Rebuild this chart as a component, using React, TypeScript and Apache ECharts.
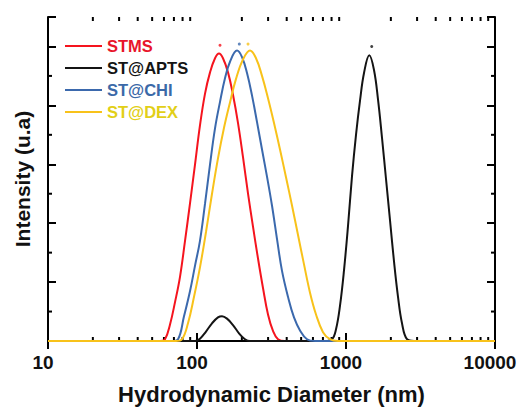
import React, { useEffect, useRef } from "react";
import * as echarts from "echarts";

// Hydrodynamic diameter (nm) / intensity (u.a)
const stmsX = [10, 56.4, 61, 65.9, 71.2, 76.9, 83.1, 89.8, 97, 104.7, 113.2, 122.3, 132.1, 140.5, 149.4, 161.5, 174.4, 188.5, 203.6, 220, 237.6, 256.7, 277.3, 299.6, 323.6, 349.7, 389.6, 10000];
const stmsY = [0, 0, 0.03, 0.28, 0.66, 1.09, 1.7, 2.34, 3.0, 3.66, 4.2, 4.56, 4.8, 4.88, 4.8, 4.56, 4.18, 3.7, 3.12, 2.5, 1.94, 1.4, 0.9, 0.45, 0.17, 0.03, 0, 0];

const aptsX = [10, 97, 104.7, 114.9, 126.1, 138.3, 147.2, 159, 174.4, 191.4, 209.9, 226.9, 722.9, 805.4, 857, 911.6, 969.6, 1031.3, 1097.3, 1167.2, 1241.7, 1321, 1433.3, 1541.3, 1639.8, 1744.3, 1855.8, 1974.1, 2099.9, 2233.7, 2375.9, 2567.5, 2860.8, 10000];
const aptsY = [0, 0, 0.04, 0.16, 0.3, 0.4, 0.42, 0.38, 0.27, 0.13, 0.03, 0, 0, 0.03, 0.2, 0.6, 1.2, 1.95, 2.8, 3.5, 4.08, 4.55, 4.85, 4.6, 4.1, 3.45, 2.75, 2.05, 1.35, 0.75, 0.3, 0.03, 0, 0];

const chiX = [10, 67.9, 74.6, 81.8, 89.8, 97, 104.7, 113.2, 122.3, 132.1, 142.7, 154.1, 166.5, 185.6, 200.5, 216.6, 233.9, 252.7, 273.1, 295, 318.6, 344.4, 372, 408, 447.7, 491.2, 547.3, 619.5, 10000];
const chiY = [0, 0, 0.03, 0.42, 0.85, 1.28, 1.7, 2.33, 3.0, 3.61, 4.06, 4.46, 4.74, 4.93, 4.82, 4.55, 4.17, 3.72, 3.25, 2.79, 2.3, 1.73, 1.19, 0.75, 0.4, 0.18, 0.03, 0, 0];

const dexX = [10, 72.3, 79.3, 87, 95.5, 104.7, 114.9, 126.1, 138.3, 151.8, 166.5, 182.7, 203.6, 226.9, 248.9, 273.1, 299.6, 328.7, 360.6, 395.7, 434.1, 476.4, 522.6, 573.4, 629.2, 700.9, 780.8, 883.6, 10000];
const dexY = [0, 0, 0.03, 0.3, 0.75, 1.25, 1.85, 2.5, 3.1, 3.62, 4.05, 4.45, 4.78, 4.93, 4.8, 4.5, 4.12, 3.7, 3.25, 2.78, 2.3, 1.8, 1.3, 0.82, 0.45, 0.15, 0.03, 0, 0];

// small dots printed just above each peak
const peakDotX = [142.7, 1488, 192.3, 220];
const peakDotY = [5.02, 5.0, 5.04, 5.04];

const seriesNames = ["STMS", "ST@APTS", "ST@CHI", "ST@DEX"];
const lineColors = ["#f5141e", "#141414", "#3b69ad", "#f8c21a"];
const textColors = ["#e8152b", "#141414", "#3b69a8", "#e2cf17"];

const xTickLabels = [10, 100, 1000, 10000];
const xMinorTicks = [20, 30, 40, 50, 60, 70, 80, 90, 200, 300, 400, 500, 600, 700, 800, 900, 2000, 3000, 4000, 5000, 6000, 7000, 8000, 9000];
const yMinorTicks = [0.5, 1.5, 2.5, 3.5, 4.5];

const FONT = "'Liberation Sans', Arial, sans-serif";

function zip(xs: number[], ys: number[]) {
  return xs.map((x, i) => [x, ys[i]]);
}

export default function App() {
  const ref = useRef<HTMLDivElement>(null);
  useEffect(() => {
    if (!ref.current) return;
    const chart = echarts.init(ref.current, null, { renderer: "svg" });
    const data = [zip(stmsX, stmsY), zip(aptsX, aptsY), zip(chiX, chiY), zip(dexX, dexY)];
    const axisLineStyle = { color: "#000", width: 2 };
    chart.setOption({
      animation: false,
      backgroundColor: "#fff",
      grid: { left: 48, right: 27, top: 17, bottom: 65 },
      legend: {
        orient: "vertical",
        left: 60,
        top: 32,
        icon: "rect",
        itemWidth: 37,
        itemHeight: 2,
        itemGap: 4,
        data: seriesNames.map((n, i) => ({
          name: n,
          textStyle: { color: textColors[i] },
        })),
        textStyle: { fontFamily: FONT, fontWeight: "bold", fontSize: 16.5, lineHeight: 18 },
      },
      xAxis: [
        {
          type: "log",
          logBase: 10,
          min: 10,
          max: 10000,
          position: "bottom",
          axisLine: { lineStyle: axisLineStyle },
          axisTick: { inside: true, length: 8, lineStyle: { color: "#000", width: 2 } },
          axisLabel: {
            fontFamily: FONT,
            fontWeight: "bold",
            fontSize: 19,
            color: "#111",
            margin: 12,
            padding: [0, 10, 0, 0],
            showMinLabel: true,
            showMaxLabel: true,
            formatter: (v: number) => (xTickLabels.includes(Math.round(v)) ? String(Math.round(v)) : ""),
          },
          splitLine: { show: false },
          name: "Hydrodynamic Diameter (nm)",
          nameLocation: "middle",
          nameGap: 42,
          nameTextStyle: { fontFamily: FONT, fontWeight: "bold", fontSize: 22, color: "#111" },
        },
        {
          type: "log",
          logBase: 10,
          min: 10,
          max: 10000,
          position: "top",
          axisLine: { lineStyle: axisLineStyle },
          axisTick: { inside: true, length: 8, lineStyle: { color: "#000", width: 2 } },
          axisLabel: { show: false },
          splitLine: { show: false },
        },
      ],
      yAxis: [
        {
          type: "value",
          min: 0,
          max: 5.5,
          interval: 1,
          position: "left",
          axisLine: { show: true, lineStyle: axisLineStyle },
          axisTick: { show: true, inside: true, length: 8, lineStyle: { color: "#000", width: 2 } },
          axisLabel: { show: false },
          splitLine: { show: false },
          name: "Intensity (u.a)",
          nameLocation: "middle",
          nameGap: 15,
          nameTextStyle: { fontFamily: FONT, fontWeight: "bold", fontSize: 21, color: "#111" },
        },
        {
          type: "value",
          min: 0,
          max: 5.5,
          interval: 1,
          position: "right",
          axisLine: { show: true, lineStyle: axisLineStyle },
          axisTick: { show: true, inside: true, length: 8, lineStyle: { color: "#000", width: 2 } },
          axisLabel: { show: false },
          splitLine: { show: false },
        },
      ],
      series: [
        ...seriesNames.map((n, i) => ({
          name: n,
          type: "line",
          xAxisIndex: 0,
          yAxisIndex: 0,
          data: data[i],
          smooth: 0.4,
          symbol: "none",
          lineStyle: { color: lineColors[i], width: 2 },
          itemStyle: { color: lineColors[i] },
        })),
        {
          type: "scatter",
          name: "peakDots",
          xAxisIndex: 0,
          yAxisIndex: 0,
          silent: true,
          symbol: "circle",
          symbolSize: 3,
          data: peakDotX.map((x, i) => ({
            value: [x, peakDotY[i]],
            itemStyle: { color: lineColors[i] },
          })),
        },
        {
          type: "custom",
          name: "xminor",
          xAxisIndex: 0,
          yAxisIndex: 0,
          silent: true,
          data: xMinorTicks.map((v) => [v, 0]),
          encode: { x: 0, y: 1 },
          renderItem: (params: any, api: any) => {
            const px = api.coord([api.value(0), 1])[0];
            const cs = params.coordSys;
            const st = { stroke: "#000", lineWidth: 2 };
            return {
              type: "group",
              children: [
                { type: "line", shape: { x1: px, y1: cs.y + cs.height, x2: px, y2: cs.y + cs.height - 4 }, style: st },
                { type: "line", shape: { x1: px, y1: cs.y, x2: px, y2: cs.y + 4 }, style: st },
              ],
            };
          },
        },
        {
          type: "custom",
          name: "yminor",
          xAxisIndex: 0,
          yAxisIndex: 0,
          silent: true,
          data: yMinorTicks.map((v) => [10, v]),
          encode: { x: 0, y: 1 },
          renderItem: (params: any, api: any) => {
            const py = api.coord([10, api.value(1)])[1];
            const cs = params.coordSys;
            const st = { stroke: "#000", lineWidth: 2 };
            return {
              type: "group",
              children: [
                { type: "line", shape: { x1: cs.x, y1: py, x2: cs.x + 4, y2: py }, style: st },
                { type: "line", shape: { x1: cs.x + cs.width, y1: py, x2: cs.x + cs.width - 4, y2: py }, style: st },
              ],
            };
          },
        },
      ],
    });
    return () => chart.dispose();
  }, []);
  return <div ref={ref} style={{ width: 522, height: 410, position: "absolute", left: 0, top: 0 }} />;
}
